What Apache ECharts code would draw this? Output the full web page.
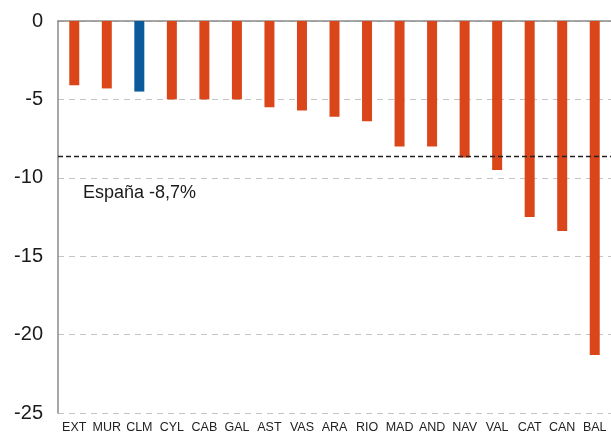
<!DOCTYPE html>
<html>
<head>
<meta charset="utf-8">
<script src="https://cdn.jsdelivr.net/npm/echarts@6/dist/echarts.min.js"></script>
<style>
  html, body { margin: 0; padding: 0; background: #fff; }
  #chart { width: 611px; height: 434px; }
</style>
</head>
<body>
<div id="chart"></div>
<script>
// regiones y variación (%)
var regions = ['EXT', 'MUR', 'CLM', 'CYL', 'CAB', 'GAL', 'AST', 'VAS', 'ARA', 'RIO',
               'MAD', 'AND', 'NAV', 'VAL', 'CAT', 'CAN', 'BAL'];
var values = [-4.1, -4.3, -4.5, -5.0, -5.0, -5.0, -5.5, -5.7, -6.1, -6.4,
              -8.0, -8.0, -8.7, -9.5, -12.5, -13.4, -21.3];
var highlight = 'CLM';
var spainValue = -8.65;
var spainLabel = 'España -8,7%';

var orange = '#DA461A';
var blue = '#0A5A9C';

var chart = echarts.init(document.getElementById('chart'));

var barData = values.map(function (v, i) {
    return {
        value: v,
        itemStyle: { color: regions[i] === highlight ? blue : orange }
    };
});

var option = {
    animation: false,
    backgroundColor: '#fff',
    textStyle: { fontFamily: 'Liberation Sans, Arial, sans-serif' },
    grid: { left: 58, right: -3, top: 21, bottom: 19, containLabel: false },
    xAxis: [{
        type: 'category',
        data: regions,
        position: 'bottom',
        axisLine: { show: false },
        axisTick: { show: false },
        axisLabel: { color: '#222', fontSize: 12.5, margin: 8, interval: 0 }
    }, {
        type: 'category',
        data: regions,
        position: 'top',
        axisLine: { show: true, onZero: false, lineStyle: { color: '#8a8a8a', width: 1.5 } },
        axisTick: { show: false },
        axisLabel: { show: false }
    }],
    yAxis: {
        type: 'value',
        min: -25,
        max: 0,
        interval: 5,
        axisLine: { show: true, lineStyle: { color: '#8a8a8a', width: 1.5 } },
        axisTick: { show: false },
        axisLabel: { color: '#1a1a1a', fontSize: 20, margin: 15 },
        splitLine: { lineStyle: { color: '#c4c4c4', type: [6, 5], width: 1 } }
    },
    series: [{
        type: 'bar',
        data: barData,
        barWidth: 10,
        markLine: {
            silent: true,
            symbol: 'none',
            lineStyle: { color: '#222', type: [5, 3], width: 1.4 },
            label: {
                show: true,
                position: 'insideStartBottom',
                formatter: spainLabel,
                color: '#1a1a1a',
                fontSize: 18,
                distance: [25, 27]
            },
            data: [{ yAxis: spainValue }]
        }
    }]
};

chart.setOption(option);
</script>
</body>
</html>
